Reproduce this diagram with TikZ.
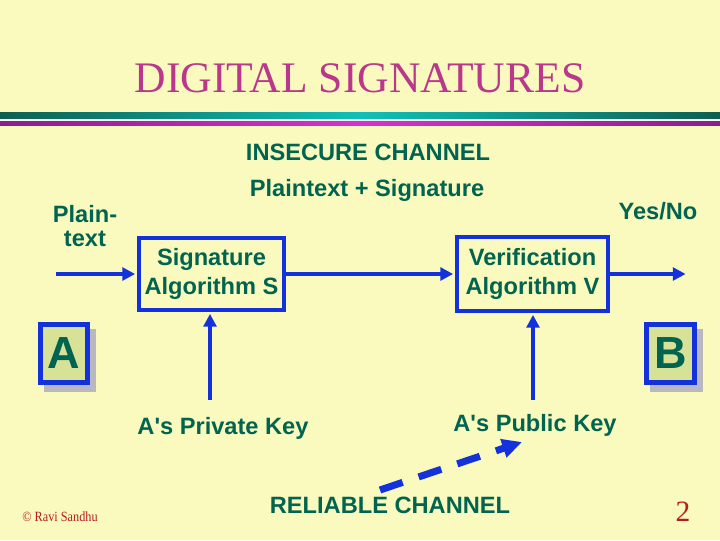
\documentclass[tikz,border=0pt]{standalone}
\usepackage{fontspec}
\setmainfont{Liberation Serif}
\newfontfamily\arialfont{Liberation Sans}
\usepackage{tikz}
\usetikzlibrary{arrows.meta,shadows}
\definecolor{slidebg}{RGB}{250,250,190}
\definecolor{textgreen}{RGB}{0,100,80}
\definecolor{titlemag}{RGB}{186,56,140}
\definecolor{lineblue}{RGB}{20,50,220}
\definecolor{tealdark}{RGB}{14,95,80}
\definecolor{tealbright}{RGB}{16,192,184}
\definecolor{magdark}{RGB}{140,30,135}
\definecolor{magbright}{RGB}{215,50,205}
\definecolor{letterfill}{RGB}{216,226,150}
\definecolor{shadowgray}{RGB}{184,184,190}
\definecolor{creditred}{RGB}{180,30,30}
\tikzset{
>={Triangle[length=9pt,width=9pt]},
  label text/.style={
    text=textgreen,
    font=\arialfont\bfseries\fontsize{16.8}{20.5}\selectfont,
    align=center,
    inner sep=0pt},
  algobox/.style={
    label text,
    draw=lineblue, line width=3.5pt,
    rectangle},
  letterbox/.style={
    draw=lineblue, line width=3.5pt,
    fill=letterfill,
    text=textgreen,
    font=\arialfont\bfseries\fontsize{32}{36}\selectfont,
    inner sep=0pt,
    drop shadow={shadow xshift=0.15cm, shadow yshift=-0.175cm,
      fill=shadowgray, draw=shadowgray, opacity=1}},
  flow/.style={draw=lineblue, line width=3.3pt, ->, shorten >=1pt},
}

\begin{document}
\begin{tikzpicture}[
    x=0.025cm, y=-0.025cm,
    title text/.style={text=titlemag, font=\fontsize{31}{36}\selectfont, inner sep=0pt},
    credit text/.style={text=creditred, inner sep=0pt},
    keyflow/.style={draw=lineblue, line width=5pt,
      dash pattern=on 17pt off 12pt,
      -{Triangle[length=14pt,width=13pt]}}
    ]

    %slide background
    \fill[slidebg] (0,0) rectangle (720,540);
    \useasboundingbox (0,0) rectangle (720,540);
    \shade[left color=tealdark, right color=tealdark, middle color=tealbright]
        (0,112) rectangle (720,119);
    \fill[white] (0,119) rectangle (720,121);
    \shade[left color=magdark, right color=magdark, middle color=magbright]
        (0,121) rectangle (720,125);

    \node[title text] (title) at (360,78) {DIGITAL SIGNATURES};

    %channel texts
    \node[label text] (insecure) at (368,152) {INSECURE CHANNEL};
    \node[label text] (payload) at (367,190) {Plaintext + Signature};
    \node[label text, font=\arialfont\bfseries\fontsize{16.8}{17.7}\selectfont]
        (plain) at (85,226) {Plain-\\text};
    \node[label text] (yesno) at (658,211) {Yes/No};

    %algorithms
    \node[algobox, minimum width=3.625cm, minimum height=1.8cm]
        (sign) at (211.5,274) {Signature\\Algorithm S};
    \node[algobox, minimum width=3.775cm, minimum height=1.85cm]
        (verify) at (532.5,274) {Verification\\Algorithm V};

    %parties
    \node[letterbox, minimum width=1.175cm, minimum height=1.45cm]
        (alice) at (64,353.5) {A};
    \node[letterbox, minimum width=1.2cm, minimum height=1.45cm]
        (bob) at (670.5,353.5) {B};

    %keys
    \node[label text] (privkey) at (223,428) {A\textquotesingle s Private Key};
    \node[label text] (pubkey) at (535,425) {A\textquotesingle s Public Key};
    \node[label text] (reliable) at (390,505) {RELIABLE CHANNEL};

    \node[credit text, font=\fontsize{10}{12}\selectfont, xscale=0.87]
        (credit) at (60,517) {\textcopyright\ Ravi Sandhu};
    \node[credit text, font=\fontsize{21}{24}\selectfont]
        (pageno) at (683,512) {2};

    %connections
    \coordinate (plainstart) at (56,274);
    \coordinate (yesnoend) at (687,274);
    \coordinate (privfoot) at (210,400);
    \coordinate (pubfoot) at (533,400);
    \coordinate (reliablefoot) at (380,490);
    \coordinate (pubhead) at (522,442);

    \draw[flow] (plainstart) -- (plainstart -| sign.west);
    \draw[flow] (sign.east) -- (verify.west);
    \draw[flow] (verify.east) -- (yesnoend);
    \draw[flow] (privfoot) -- (privfoot |- sign.south);
    \draw[flow] (pubfoot) -- (pubfoot |- verify.south);
    \draw[keyflow] (reliablefoot) -- (pubhead);

\end{tikzpicture}
\end{document}
